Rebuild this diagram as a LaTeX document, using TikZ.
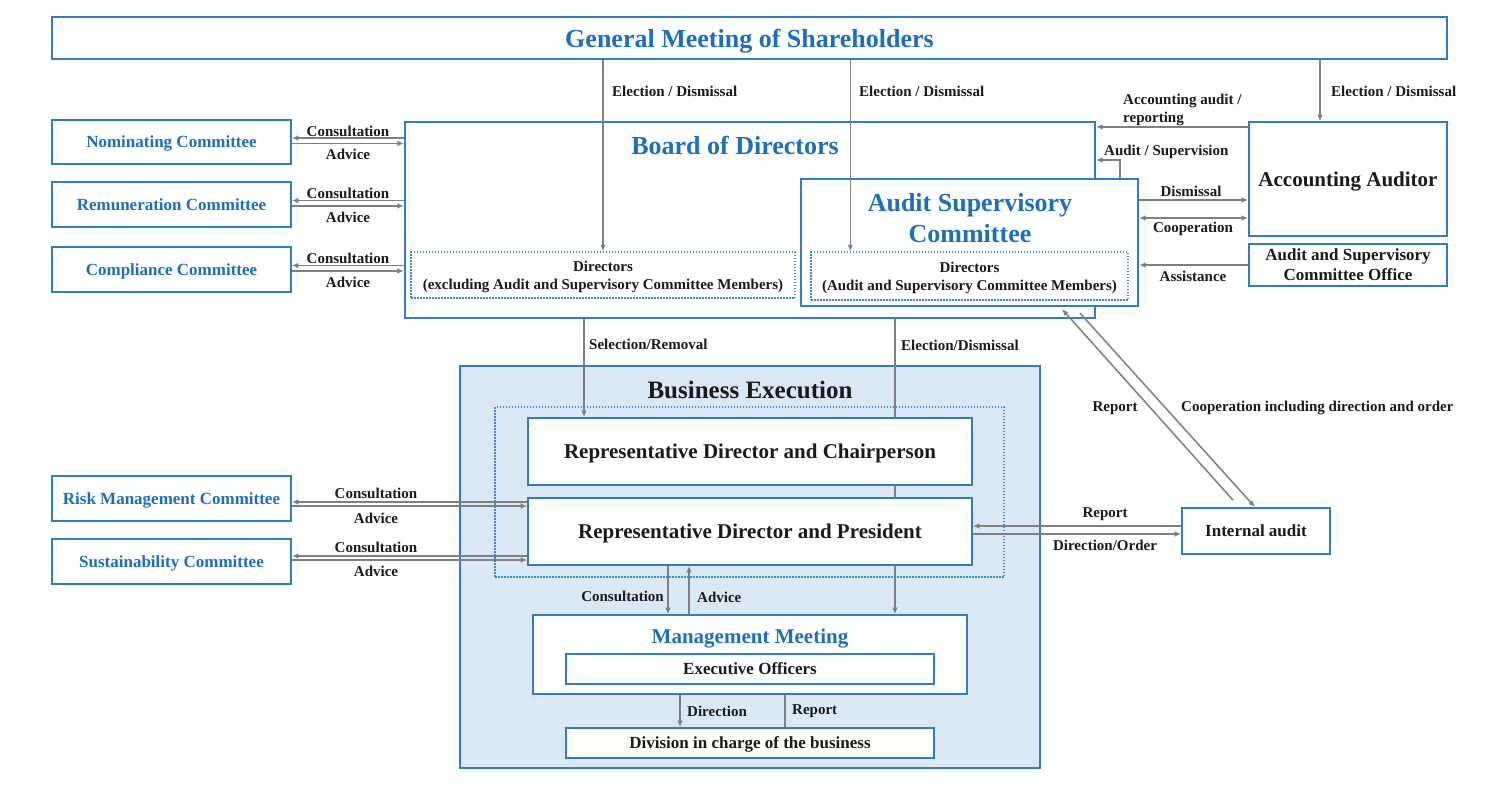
\documentclass[tikz,border=0pt]{standalone}
\usepackage{fontspec}
\setmainfont{Liberation Serif}
\usetikzlibrary{arrows.meta,calc}
\definecolor{tblue}{HTML}{1C6EC0}
\definecolor{bblue}{HTML}{2F7DC6}
\definecolor{dblue}{HTML}{3F88C8}
\definecolor{fillbe}{HTML}{DAE7F5}
\definecolor{wire}{HTML}{7F7F7F}
\definecolor{ink}{HTML}{1A1A1A}
\pgfdeclarelayer{bg}\pgfdeclarelayer{wires}\pgfsetlayers{bg,wires,main}
\begin{document}
\begin{tikzpicture}[x=1pt,y=-1pt,
  box/.style={draw=bblue, line width=1.8pt, fill=white, inner sep=0pt, align=center, text depth=0pt,
    font=\bfseries\fontsize{17}{20}\selectfont, text=ink},
  bluebox/.style={box, text=tblue},
  frame/.style={draw=bblue, line width=2.2pt, inner sep=0pt},
  dotbox/.style={draw=dblue, line width=1.5pt, dash pattern=on 1.5pt off 1.5pt, inner sep=0pt, text depth=0pt,
    align=center, font=\bfseries\fontsize{15}{18}\selectfont, text=ink},
  lbl/.style={font=\bfseries\fontsize{15}{18}\selectfont, text=ink, inner sep=0pt, align=left},
  bigtitle/.style={font=\bfseries\fontsize{26}{31}\selectfont, text=tblue, inner sep=0pt, align=center},
  tip/.style={},
  arr/.style={draw=wire, line width=1.5pt, -{Latex[length=6.5pt,width=5.5pt]}},
  darr/.style={draw=wire, line width=1.5pt, {Latex[length=6.5pt,width=5.5pt]}-{Latex[length=6.5pt,width=5.5pt]}}
]
\useasboundingbox (0,0) rectangle (1500,788);
\begin{pgfonlayer}{bg}
  \fill[white] (0,0) rectangle (1500,788);
  \node[draw=bblue, line width=1.8pt, fill=fillbe, minimum width=580pt, minimum height=402pt, inner sep=0pt] (be) at (750,567) {};
  \node[frame, minimum width=690pt, minimum height=196pt] (board) at (750,220) {};
  \node[frame, fill=white, minimum width=337pt, minimum height=127pt] (asc) at (969.5,242.5) {};
\end{pgfonlayer}

% top
\node[box, line width=1.5pt, minimum width=1395pt, minimum height=42pt, text=tblue,
  font=\bfseries\fontsize{26}{31}\selectfont] (gms) at (749.5,38) {General Meeting of Shareholders};

% committees
\node[bluebox, minimum width=239pt, minimum height=44pt] (nom) at (171.5,142) {Nominating Committee};
\node[bluebox, minimum width=239pt, minimum height=45pt] (rem) at (171.5,204.5) {Remuneration Committee};
\node[bluebox, minimum width=239pt, minimum height=45pt] (comp) at (171.5,269.5) {Compliance Committee};
\node[bluebox, minimum width=239pt, minimum height=45pt] (risk) at (171.5,498.5) {Risk Management Committee};
\node[bluebox, minimum width=239pt, minimum height=45pt] (sust) at (171.5,561.5) {Sustainability Committee};

% board titles and director groups
\node[bigtitle] (boardt) at (735,145) {Board of Directors};
\node[bigtitle] (asct) at (970,218) {Audit Supervisory\\Committee};
\node[dotbox, minimum width=384pt, minimum height=46pt] (direx) at (603,275)
  {Directors\\(excluding Audit and Supervisory Committee Members)};
\node[dotbox, minimum width=317pt, minimum height=48pt] (dirasc) at (969.5,276)
  {Directors\\(Audit and Supervisory Committee Members)};

% auditor side
\node[box, minimum width=198pt, minimum height=114pt, font=\bfseries\fontsize{21}{25}\selectfont] (aa) at (1348,179) {Accounting Auditor};
\node[box, minimum width=198pt, minimum height=42pt] (ascoff) at (1348,265) {Audit and Supervisory\\Committee Office};
\node[box, minimum width=148pt, minimum height=46pt] (ia) at (1256,531) {Internal audit};

% business execution
\node[font=\bfseries\fontsize{25}{30}\selectfont, text=ink, inner sep=0pt] (bet) at (750,390) {Business Execution};
\node[dotbox, minimum width=509pt, minimum height=170pt] (grp) at (749.5,492) {};
\node[box, minimum width=444pt, minimum height=67pt, font=\bfseries\fontsize{21}{25}\selectfont] (chair) at (750,451.5) {Representative Director and Chairperson};
\node[box, minimum width=444pt, minimum height=67pt, font=\bfseries\fontsize{21}{25}\selectfont] (pres) at (750,531.5) {Representative Director and President};
\node[box, minimum width=434pt, minimum height=79pt] (mm) at (750,654.5) {};
\node[font=\bfseries\fontsize{21}{25}\selectfont, text=tblue, inner sep=0pt, text depth=0pt] (mmt) at (750,636) {Management Meeting};
\node[box, minimum width=368pt, minimum height=30pt] (eo) at (750,669) {Executive Officers};
\node[box, minimum width=368pt, minimum height=30pt] (div) at (750,743) {Division in charge of the business};

% connectors
\begin{pgfonlayer}{wires}
  \draw[arr] (gms.south -| direx.north) -- (direx.north);
  \draw[arr] ([xshift=40pt]dirasc.north west |- gms.south) -- ([xshift=40pt]dirasc.north west);
  \draw[arr] ([xshift=-28pt]aa.north |- gms.south) -- ([xshift=-28pt]aa.north);
  \draw[arr] ([yshift=52pt]aa.west) -- ([yshift=52pt]aa.west -| board.east);
  \draw[arr] ([xshift=150.5pt]asc.north) |- ([yshift=60pt]board.east);
  \draw[arr] ([yshift=42.5pt]asc.east) -- ([yshift=42.5pt]asc.east -| aa.west);
  \draw[darr] ([yshift=24.5pt]asc.east) -- ([yshift=24.5pt]asc.east -| aa.west);
  \draw[arr] (ascoff.west) -- (ascoff.west -| asc.east);
  % committees
  \foreach \c in {nom,rem,comp}{
    \draw[arr] ([yshift=4pt]\c.east -| board.west) -- ([yshift=4pt]\c.east);
    \draw[arr] ([yshift=-1.5pt]\c.east) -- ([yshift=-1.5pt]\c.east -| board.west);
  }
  \draw[arr] ([yshift=-3.5pt]risk.east -| pres.west) -- ([yshift=-3.5pt]risk.east);
  \draw[arr] ([yshift=-7.5pt]risk.east) -- ([yshift=-7.5pt]risk.east -| pres.west);
  \draw[arr] ([yshift=5.5pt]sust.east -| pres.west) -- ([yshift=5.5pt]sust.east);
  \draw[arr] ([yshift=1.5pt]sust.east) -- ([yshift=1.5pt]sust.east -| pres.west);
  % board to execution
  \draw[arr] ([xshift=-166pt]chair.north |- board.south) -- ([xshift=-166pt]chair.north);
  \draw[arr] ([xshift=145pt]mm.north |- board.south) -- ([xshift=145pt]mm.north);
  % internal audit
  \draw[arr] ([yshift=5pt]ia.west) -- ([yshift=5pt]ia.west -| pres.east);
  \draw[arr] ([yshift=-3pt]ia.west -| pres.east) -- ([yshift=-3pt]ia.west);
  \draw[arr] ([xshift=-23pt,yshift=7pt]ia.north) -- ([xshift=92.5pt,yshift=-2pt]asc.south);
  \draw[arr] ([xshift=110.5pt,yshift=-6pt]asc.south) -- ([xshift=-1pt]ia.north);
  % management
  \draw[arr] ([xshift=-82pt]pres.south) -- ([xshift=-82pt]mm.north);
  \draw[arr] ([xshift=-61pt]mm.north) -- ([xshift=-61pt]pres.south);
  \draw[arr] ([xshift=-70pt]eo.south) -- ([xshift=-70pt]div.north);
  \draw[arr] ([xshift=35pt]div.north) -- ([xshift=35pt]eo.south);
\end{pgfonlayer}

% labels
\node[lbl, anchor=west] (l1) at (612,91) {Election / Dismissal};
\node[lbl, anchor=west] (l2) at (859,91) {Election / Dismissal};
\node[lbl, anchor=west] (l3) at (1331,91) {Election / Dismissal};
\node[lbl, anchor=west] (l4) at (1123,110) {Accounting audit /\\reporting};
\node[lbl, anchor=west] (l5) at (1104,152) {Audit / Supervision};
\node[lbl] (l6) at (1191,191) {Dismissal};
\node[lbl] (l7) at (1193,229) {Cooperation};
\node[lbl] (l8) at (1193,276) {Assistance};
\node[lbl] (c1) at (348,131) {Consultation};
\node[lbl] (a1) at (348,154) {Advice};
\node[lbl] (c2) at (348,193) {Consultation};
\node[lbl] (a2) at (348,217) {Advice};
\node[lbl] (c3) at (348,258) {Consultation};
\node[lbl] (a3) at (348,282) {Advice};
\node[lbl] (c4) at (376,493) {Consultation};
\node[lbl] (a4) at (376,518) {Advice};
\node[lbl] (c5) at (376,547) {Consultation};
\node[lbl] (a5) at (376,571) {Advice};
\node[lbl, anchor=west] (l9) at (589,344) {Selection/Removal};
\node[lbl, anchor=west] (l10) at (901,345) {Election/Dismissal};
\node[lbl] (l11) at (1105,514) {Report};
\node[lbl] (l12) at (1105,545) {Direction/Order};
\node[lbl] (l13) at (1115,408) {Report};
\node[lbl, anchor=west] (l14) at (1181,408) {Cooperation including direction and order};
\node[lbl, anchor=east] (l15) at (664,596) {Consultation};
\node[lbl, anchor=west] (l16) at (697,597) {Advice};
\node[lbl, anchor=west] (l17) at (687,711) {Direction};
\node[lbl, anchor=west] (l18) at (792,711) {Report};
\end{tikzpicture}
\end{document}
